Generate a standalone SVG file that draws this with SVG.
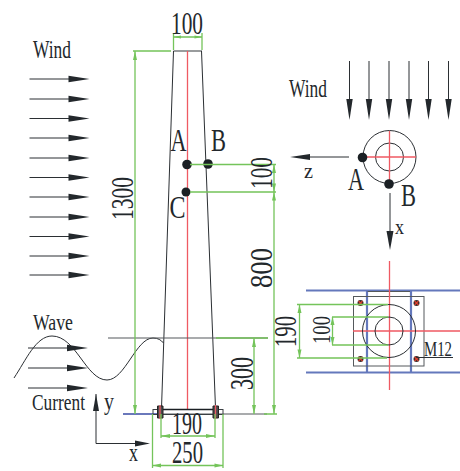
<svg xmlns="http://www.w3.org/2000/svg" width="460" height="471" viewBox="0 0 460 471">
<style>
text{font-family:"Liberation Serif","Times New Roman",serif;fill:#23282c}
.k{fill:none;stroke:#2b2f33;stroke-width:1}
.g{fill:none;stroke:#74c45a;stroke-width:1.3}
.r{fill:none;stroke:#ef5a63;stroke-width:1.3}
.b{fill:none;stroke:#6478bc;stroke-width:2.2}
.gy{fill:none;stroke:#55595c;stroke-width:1.2}
.h{fill:#23282c}
.gh{fill:#74c45a}
.d{fill:#1b2024}
</style>
<defs>
<g id="ar"><path class="k" d="M0 0H40"/><path class="h" d="M39 -3.2L60 0L39 3.2Z"/></g>
<g id="ad"><path class="k" d="M0 0V40"/><path class="h" d="M-3.2 38H3.2L0 59Z"/></g>
<g id="bolt"><circle cx="0" cy="0" r="3" fill="#3a2b2b"/><path d="M-2 -2L2 2M2 -2L-2 2" stroke="#e2402f" stroke-width="1.1"/></g>
</defs>
<g id="wind-left">
<text x="33" y="57.500" font-size="25" textLength="38" lengthAdjust="spacingAndGlyphs">Wind</text>
<use href="#ar" x="29.500" y="79"/><use href="#ar" x="29.500" y="99"/><use href="#ar" x="29.500" y="118.500"/><use href="#ar" x="29.500" y="138"/><use href="#ar" x="29.500" y="158"/><use href="#ar" x="29.500" y="177.500"/><use href="#ar" x="29.500" y="197"/><use href="#ar" x="29.500" y="217"/><use href="#ar" x="29.500" y="236.500"/><use href="#ar" x="29.500" y="256"/><use href="#ar" x="29.500" y="275"/>
</g>
<g id="wave">
<text x="33" y="330" font-size="24" textLength="40" lengthAdjust="spacingAndGlyphs">Wave</text>
<path class="k" d="M14 378C26 360 36 336 52 336C76 336 86 380 107 380C125 380 136 338 153 338C158 338 161 340 163.500 343"/>
<use href="#ar" x="28" y="348"/><use href="#ar" x="28" y="368"/><use href="#ar" x="28" y="388"/>
<text x="32" y="410" font-size="24" textLength="53" lengthAdjust="spacingAndGlyphs">Current</text>
</g>
<g id="axes-left">
<path class="k" d="M96 394V443.500H148"/>
<path class="h" d="M96 394L99 411H93Z"/><path class="h" d="M150 443.500L135 440.500V446.500Z"/>
<text x="104" y="410" font-size="25" textLength="10" lengthAdjust="spacingAndGlyphs">y</text>
<text x="129" y="461" font-size="25" textLength="9" lengthAdjust="spacingAndGlyphs">x</text>
</g>
<g id="tower">
<path class="gy" d="M173.500 51H202"/>
<path class="k" d="M173.500 51L161.500 408M201.500 51L215.500 408"/>
<path class="r" d="M187.500 51V410"/>
<path class="gy" d="M108 338H268"/>
<path d="M123 414H160" stroke="#6a78bb" stroke-width="2" fill="none"/>
<path class="gy" d="M160 414H267"/>
<rect x="153" y="409.500" width="70" height="5" fill="none" stroke="#3a3f43" stroke-width="1"/>
<path d="M160 409.500H216" stroke="#1b2024" stroke-width="1.6"/>
<path d="M157.500 406H163V418H157.500ZM213 406H218.500V418H213Z" fill="#4a4a4a" stroke="#222" stroke-width="1"/>
<path class="r" d="M160 405V419M215.500 405V419"/>
<circle class="d" cx="187" cy="164.500" r="4.800"/>
<circle class="d" cx="208" cy="164" r="4.800"/>
<circle class="d" cx="186" cy="192" r="4.500"/>
<text x="170.500" y="151" font-size="31" textLength="16" lengthAdjust="spacingAndGlyphs">A</text>
<text x="211" y="151" font-size="31" textLength="15" lengthAdjust="spacingAndGlyphs">B</text>
<text x="169.500" y="218" font-size="31" textLength="16" lengthAdjust="spacingAndGlyphs">C</text>
</g>
<g id="dimensions-left">
<path class="g" d="M173.500 33V50M202 33V50M173.500 37H202"/>
<path class="gh" d="M173.500 37L181 35.500V38.500ZM202 37L194.500 35.500V38.500Z"/>
<path class="g" d="M133 51H171M135 51V414"/>
<path class="gh" d="M135 51L133 60H137ZM135 414L133 405H137Z"/>
<path class="g" d="M190 164.500H276M190 192H276M274 164.500V414M216 338H268M254 338V414M264 414H277"/>
<path class="gh" d="M274 164.500L272 173H276ZM274 192L272 183.500H276ZM274 192L272 200.500H276ZM274 414L272 405H276ZM254 338L252 347H256ZM254 414L252 405H256Z"/>
<path class="g" d="M152.500 414V468M223 414V468M152.500 465.500H223M161 414V438M215 414V438M161 436H215"/>
<path class="gh" d="M152.500 465.500L161 463.500V467.500ZM223 465.500L214.500 463.500V467.500ZM161 436L170 434V438ZM215 436L206 434V438Z"/>
<text x="171" y="34" font-size="31" textLength="32" lengthAdjust="spacingAndGlyphs">100</text>
<text transform="translate(133 220) rotate(-90)" font-size="32" textLength="43" lengthAdjust="spacingAndGlyphs">1300</text>
<text transform="translate(272 189) rotate(-90)" font-size="32" textLength="32" lengthAdjust="spacingAndGlyphs">100</text>
<text transform="translate(272 288) rotate(-90)" font-size="32" textLength="40" lengthAdjust="spacingAndGlyphs">800</text>
<text transform="translate(252.500 390) rotate(-90)" font-size="33" textLength="33" lengthAdjust="spacingAndGlyphs">300</text>
<text x="172" y="434" font-size="31" textLength="30" lengthAdjust="spacingAndGlyphs">190</text>
<text x="172" y="463" font-size="31" textLength="31" lengthAdjust="spacingAndGlyphs">250</text>
</g>
<g id="wind-right">
<text x="289" y="97" font-size="25" textLength="38" lengthAdjust="spacingAndGlyphs">Wind</text>
<use href="#ad" x="349.500" y="61"/><use href="#ad" x="369" y="61"/><use href="#ad" x="389" y="61"/><use href="#ad" x="409" y="61"/><use href="#ad" x="428.500" y="61"/><use href="#ad" x="448.500" y="61"/>
</g>
<g id="section">
<circle class="k" cx="389.500" cy="157" r="26.500"/>
<circle class="k" cx="389.500" cy="157" r="14"/>
<path class="r" d="M362 157H416M389.500 131V185"/>
<circle class="d" cx="362.500" cy="157.500" r="4.800"/>
<circle class="d" cx="389" cy="184" r="4.800"/>
<text x="348" y="190" font-size="31" textLength="16" lengthAdjust="spacingAndGlyphs">A</text>
<text x="401" y="206" font-size="31" textLength="15" lengthAdjust="spacingAndGlyphs">B</text>
<path class="k" d="M349 157H300"/><path class="h" d="M290 157L310 154V160Z"/>
<text x="304" y="178" font-size="21" textLength="9" lengthAdjust="spacingAndGlyphs">z</text>
<path class="k" d="M390 193V235"/><path class="h" d="M386.500 231H393.500L390 250Z"/>
<text x="395" y="234" font-size="21" textLength="9" lengthAdjust="spacingAndGlyphs">x</text>
</g>
<g id="plate">
<path class="b" d="M306 290.500H460M306 372.500H460M367 291V372M411 291V372"/>
<path class="gy" d="M367.500 291.500H410"/>
<rect x="353.500" y="296.500" width="70.500" height="69.500" fill="none" stroke="#55595c" stroke-width="1"/>
<path class="r" d="M389.500 261V390M353 331H460"/>
<circle class="k" cx="389" cy="331" r="26.500"/>
<circle class="k" cx="389" cy="331" r="14"/>
<use href="#bolt" x="360.500" y="303"/><use href="#bolt" x="416.500" y="303"/><use href="#bolt" x="360.500" y="359"/><use href="#bolt" x="416.500" y="359"/>
<path class="g" d="M297 304.500H388M332 317H388M332 345H388M297 358H387M299.500 304.500V358M332.500 317V345"/>
<path class="gh" d="M299.500 304.500L297.500 313H301.500ZM299.500 358L297.500 349.500H301.500ZM332.500 317L330.500 325H334.500ZM332.500 345L330.500 337H334.500Z"/>
<text transform="translate(296 347) rotate(-90)" font-size="31" textLength="31" lengthAdjust="spacingAndGlyphs">190</text>
<text transform="translate(329.500 344) rotate(-90)" font-size="26" textLength="28" lengthAdjust="spacingAndGlyphs">100</text>
<text x="424" y="356" font-size="20" textLength="28" lengthAdjust="spacingAndGlyphs">M12</text>
<path class="k" d="M417 357.500H453"/>
</g>
</svg>
